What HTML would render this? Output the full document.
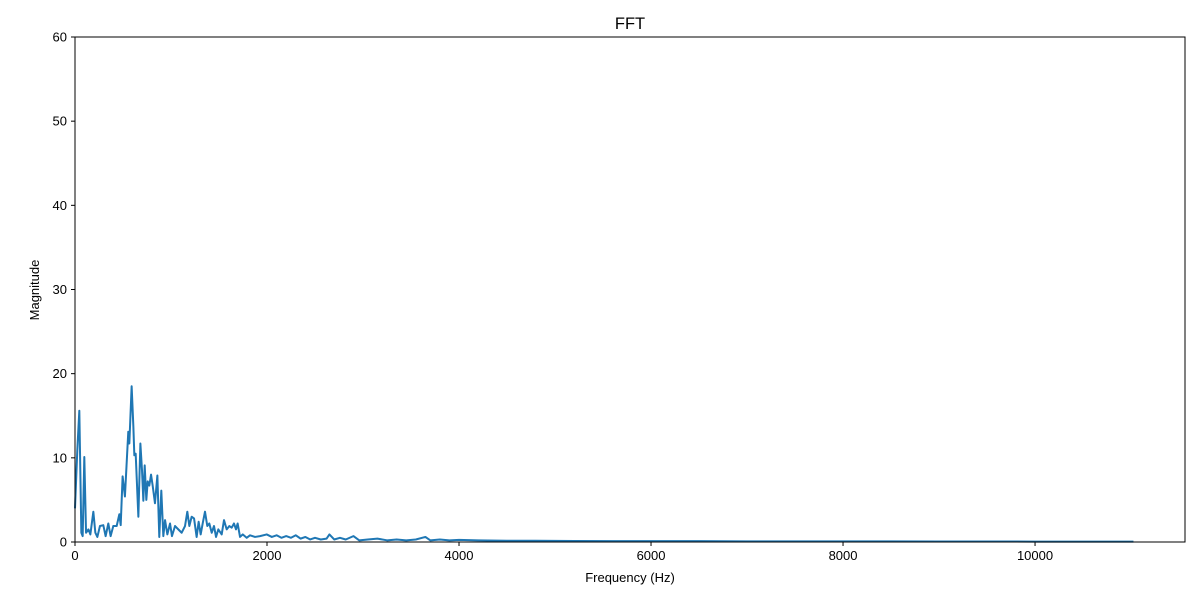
<!DOCTYPE html>
<html><head><meta charset="utf-8"><style>
html,body{margin:0;padding:0;background:#fff;}
svg{display:block;font-family:"Liberation Sans","DejaVu Sans",sans-serif;}
</style></head><body>
<svg id="chart" width="1200" height="600" viewBox="0 0 1200 600" xmlns="http://www.w3.org/2000/svg">
<rect x="0" y="0" width="1200" height="600" fill="#fff"/>
<text x="630" y="29" text-anchor="middle" font-size="16.5">FFT</text>
<g id="xticks"></g>
<g id="yticks"></g>
<path id="line" fill="none" stroke="#1f77b4" stroke-width="2" stroke-linejoin="round"/>
<rect x="75" y="37" width="1110" height="505" fill="none" stroke="#000" stroke-width="1"/>
<text x="630" y="582" text-anchor="middle" font-size="13">Frequency (Hz)</text>
<text transform="translate(39,290) rotate(-90)" text-anchor="middle" font-size="13">Magnitude</text>
</svg>
<script>
const xTicks=[0,2000,4000,6000,8000,10000];
const yTicks=[0,10,20,30,40,50,60];
const freqs=[0,24,45,66,80,97,115,140,160,191,212,233,260,295,319,347,371,399,434,462,476,496,520,555,566,590,608,618,632,660,681,698,712,726,743,757,774,792,809,833,858,878,899,920,938,962,990,1010,1042,1076,1111,1146,1170,1191,1215,1240,1267,1288,1309,1330,1354,1378,1399,1424,1448,1469,1493,1528,1552,1580,1608,1632,1656,1677,1694,1719,1747,1788,1823,1875,1927,1997,2050,2100,2150,2200,2250,2300,2350,2400,2450,2500,2560,2620,2650,2700,2760,2820,2900,2960,3050,3150,3250,3350,3450,3550,3650,3700,3800,3900,4000,4200,4500,4800,5200,5600,6000,6500,7000,7500,8000,8500,9000,9500,10000,10500,11025];
const mags=[4.0,10.9,15.6,1.1,0.7,10.1,1.1,1.5,0.9,3.6,1.1,0.6,1.9,2.0,0.7,2.2,0.7,1.9,1.9,3.3,2.0,7.8,5.4,13.1,11.7,18.5,13.7,10.3,10.5,3.0,11.7,8.5,4.9,9.1,5.0,7.2,6.7,8.0,6.7,4.6,7.9,0.6,6.1,0.7,2.6,0.9,2.2,0.7,1.9,1.5,1.1,1.9,3.6,1.9,3.0,2.8,0.6,2.4,0.9,2.2,3.6,1.9,2.2,1.1,1.9,0.6,1.5,0.9,2.6,1.5,1.9,1.7,2.2,1.5,2.2,0.6,0.9,0.5,0.8,0.6,0.7,0.9,0.6,0.8,0.5,0.7,0.5,0.8,0.4,0.6,0.3,0.5,0.3,0.4,0.9,0.3,0.5,0.3,0.7,0.2,0.3,0.4,0.2,0.3,0.2,0.3,0.6,0.2,0.3,0.2,0.25,0.2,0.15,0.15,0.12,0.1,0.1,0.1,0.08,0.08,0.07,0.07,0.06,0.06,0.05,0.05,0.05];
const X0=75,X1=1185,Y0=542,Y1=37,XMAX=11562,YMAX=60;
function sx(v){return X0+(X1-X0)*v/XMAX;}
function sy(v){return Y0-(Y0-Y1)*v/YMAX;}
const NS="http://www.w3.org/2000/svg";
const xg=document.getElementById('xticks'),yg=document.getElementById('yticks');
xTicks.forEach(t=>{
  const l=document.createElementNS(NS,'line');
  
  
  l.setAttribute('x1',sx(t));l.setAttribute('x2',sx(t));l.setAttribute('y1',Y0);l.setAttribute('y2',Y0+4);l.setAttribute('stroke','#000');
  xg.appendChild(l);
  const tx=document.createElementNS(NS,'text');
  
  
  tx.setAttribute('x',sx(t));tx.setAttribute('y',Y0+18);tx.setAttribute('text-anchor','middle');tx.setAttribute('font-size','13');
  tx.textContent=t;xg.appendChild(tx);
});
yTicks.forEach(t=>{
  const l=document.createElementNS(NS,'line');
  
  
  l.setAttribute('x1',X0-4);l.setAttribute('x2',X0);l.setAttribute('y1',sy(t));l.setAttribute('y2',sy(t));l.setAttribute('stroke','#000');
  yg.appendChild(l);
  const tx=document.createElementNS(NS,'text');
  
  
  tx.setAttribute('x',X0-8);tx.setAttribute('y',sy(t)+4.5);tx.setAttribute('text-anchor','end');tx.setAttribute('font-size','13');
  tx.textContent=t;yg.appendChild(tx);
});
document.getElementById('line').setAttribute('d',freqs.map((f,i)=>(i?'L':'M')+sx(f).toFixed(2)+','+sy(mags[i]).toFixed(2)).join(''));
</script>
</body></html>
